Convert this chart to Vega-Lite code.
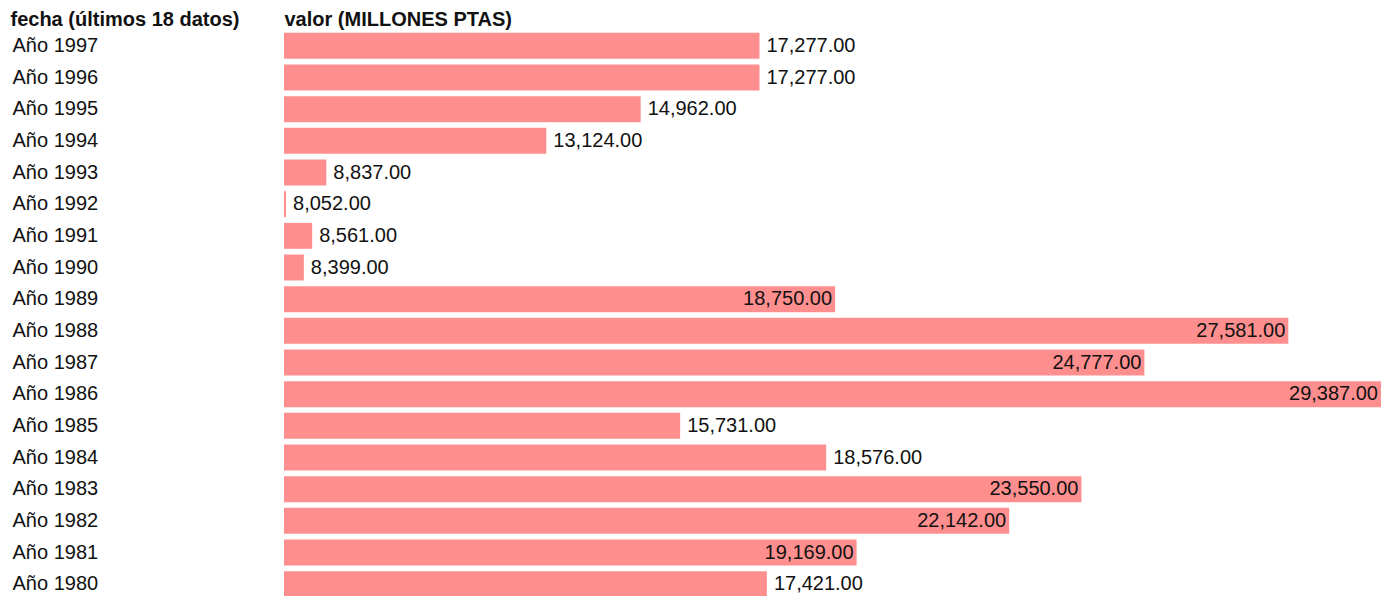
{
  "$schema": "https://vega.github.io/schema/vega-lite/v6.json",
  "width": 1097,
  "height": 570,
  "autosize": "none",
  "padding": {"left": 284, "top": 30, "right": 12, "bottom": 0},
  "config": {"view": {"stroke": null}, "font": "Liberation Sans"},
  "data": {"values": [
    {"fecha": "Año 1997", "valor": 17277},
    {"fecha": "Año 1996", "valor": 17277},
    {"fecha": "Año 1995", "valor": 14962},
    {"fecha": "Año 1994", "valor": 13124},
    {"fecha": "Año 1993", "valor": 8837},
    {"fecha": "Año 1992", "valor": 8052},
    {"fecha": "Año 1991", "valor": 8561},
    {"fecha": "Año 1990", "valor": 8399},
    {"fecha": "Año 1989", "valor": 18750},
    {"fecha": "Año 1988", "valor": 27581},
    {"fecha": "Año 1987", "valor": 24777},
    {"fecha": "Año 1986", "valor": 29387},
    {"fecha": "Año 1985", "valor": 15731},
    {"fecha": "Año 1984", "valor": 18576},
    {"fecha": "Año 1983", "valor": 23550},
    {"fecha": "Año 1982", "valor": 22142},
    {"fecha": "Año 1981", "valor": 19169},
    {"fecha": "Año 1980", "valor": 17421}
  ]},
  "encoding": {
    "y": {
      "field": "fecha", "type": "nominal", "sort": null,
      "scale": {"paddingInner": 0.18, "paddingOuter": 0.09},
      "axis": {
        "title": "fecha (últimos 18 datos)", "titleAngle": 0, "titleAlign": "left",
        "titleBaseline": "alphabetic", "titleX": -274, "titleY": -5,
        "titleFontSize": 20, "titleFontWeight": "bold", "titleColor": "#111",
        "labelAlign": "left", "labelPadding": 272, "labelFontSize": 20, "labelColor": "#111",
        "ticks": false, "tickSize": 0, "domain": false, "grid": false
      }
    },
    "x": {
      "field": "valor", "type": "quantitative",
      "scale": {"domain": [8012, 29387], "zero": false, "nice": false, "clamp": true},
      "axis": {
        "orient": "top", "title": "valor (MILLONES PTAS)", "titleAnchor": "start",
        "titleAlign": "left", "titleBaseline": "alphabetic", "titleX": 0, "titleY": -5,
        "titleFontSize": 20, "titleFontWeight": "bold", "titleColor": "#111",
        "labels": false, "ticks": false, "domain": false, "grid": false
      }
    }
  },
  "layer": [
    {"mark": {"type": "bar", "color": "#ff8f8f"}},
    {
      "transform": [{"filter": "datum.valor < 18700"}],
      "mark": {"type": "text", "align": "left", "baseline": "middle", "dx": 7, "fontSize": 20, "color": "#111"},
      "encoding": {"text": {"field": "valor", "type": "quantitative", "format": ",.2f"}}
    },
    {
      "transform": [{"filter": "datum.valor >= 18700"}],
      "mark": {"type": "text", "align": "right", "baseline": "middle", "dx": -3, "fontSize": 20, "color": "#111"},
      "encoding": {"text": {"field": "valor", "type": "quantitative", "format": ",.2f"}}
    }
  ]
}
